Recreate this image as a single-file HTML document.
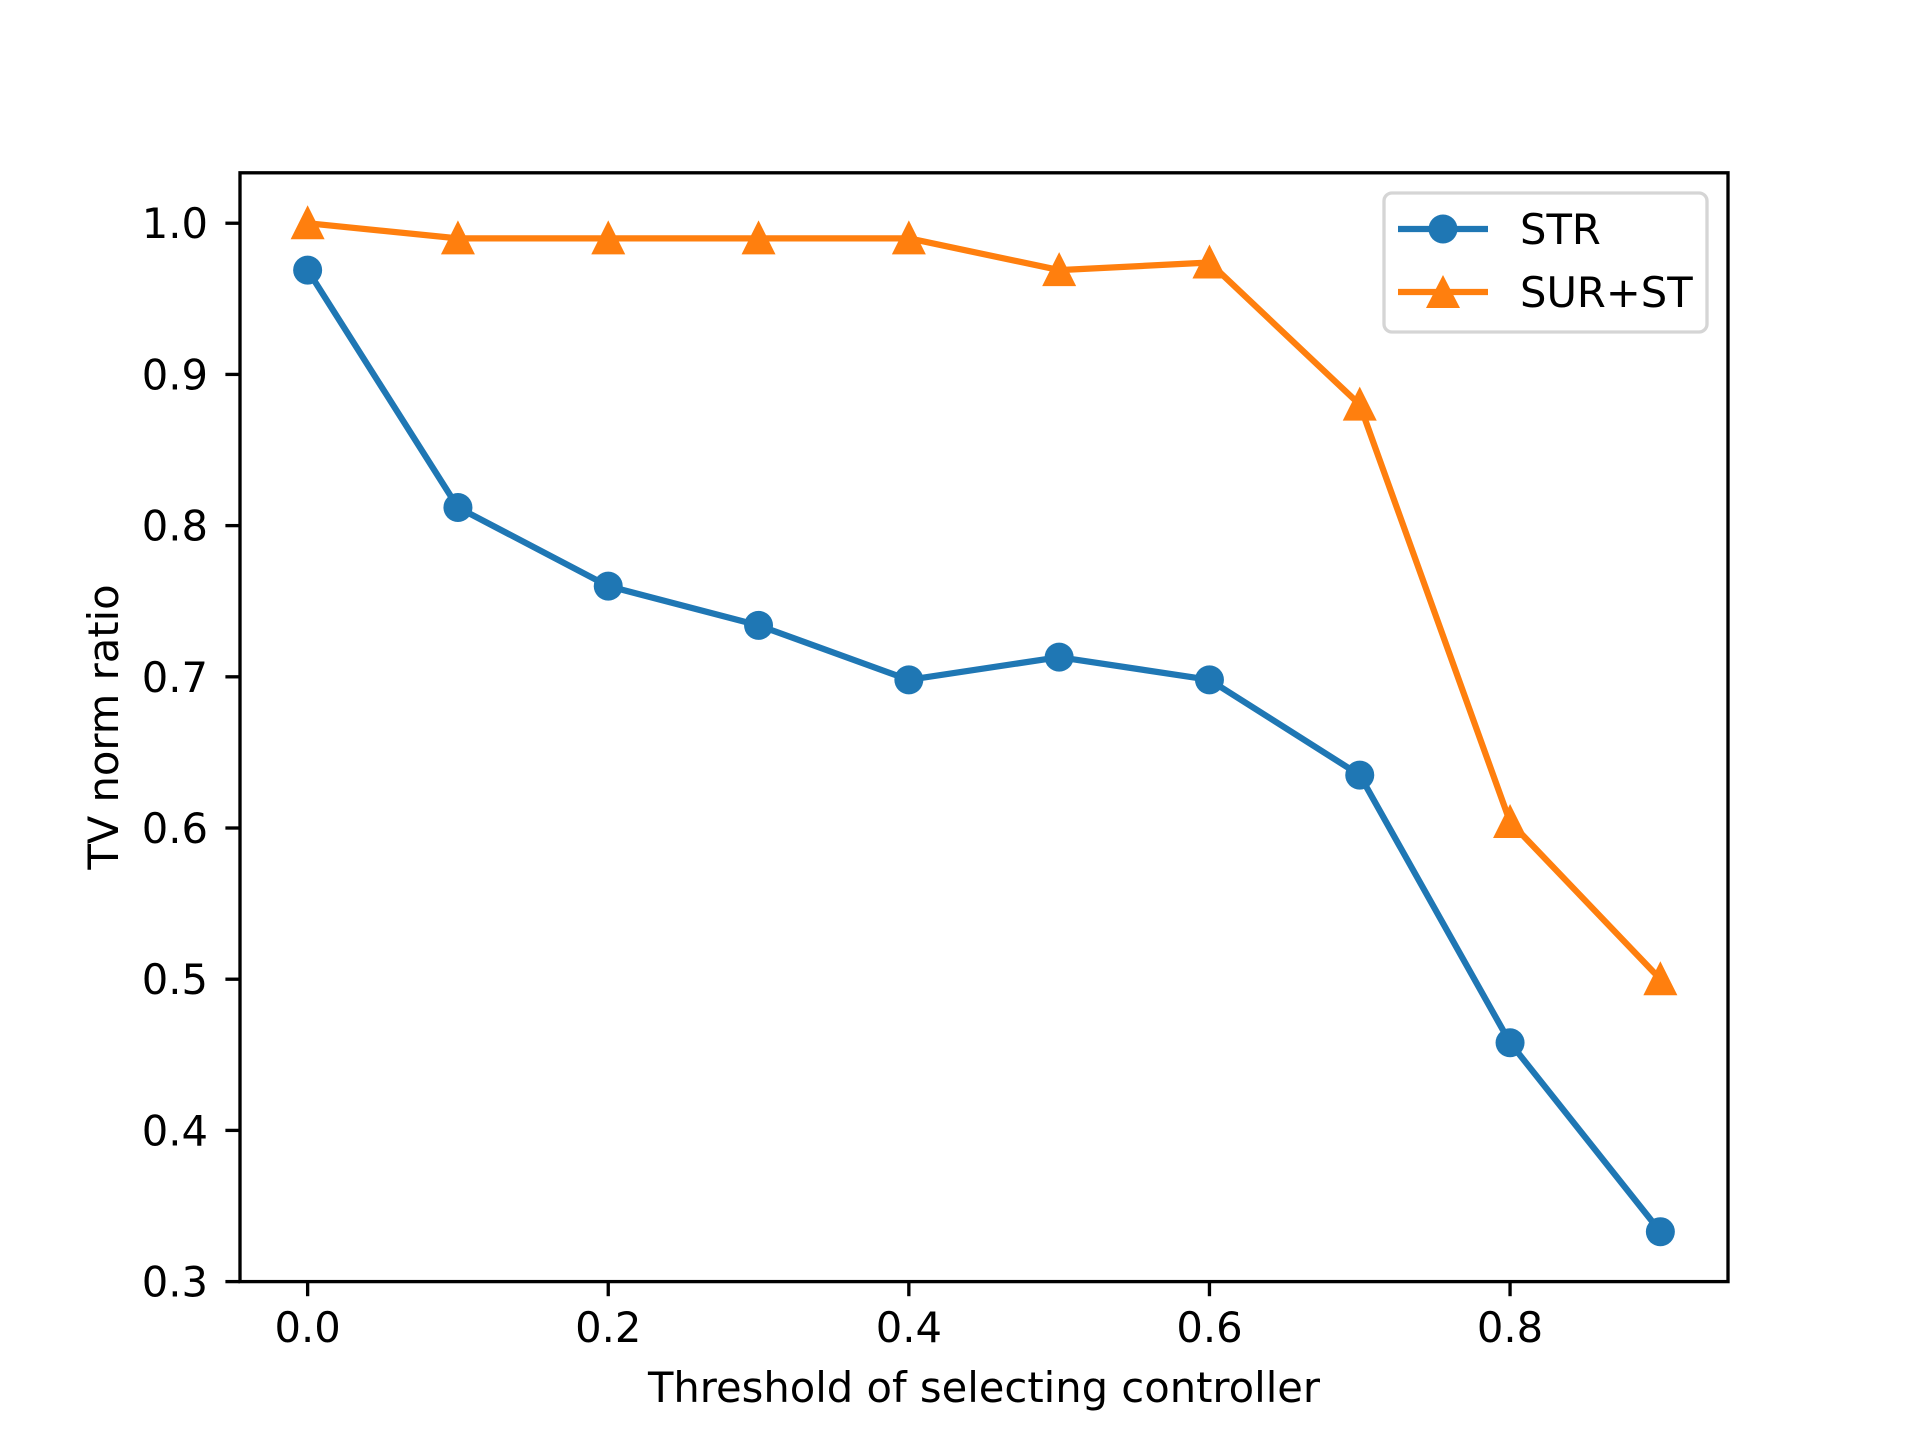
<!DOCTYPE html>
<html><head><meta charset="utf-8"><style>
html,body{margin:0;padding:0;background:#fff;}
svg{display:block;font-family:"DejaVu Sans","Liberation Sans",sans-serif;}
</style></head><body>
<svg id="chart" width="1920" height="1440" viewBox="0 0 1920 1440" xmlns="http://www.w3.org/2000/svg">
<rect width="1920" height="1440" fill="#fff"/>
<g id="grid"></g>
<g id="series"></g>
<rect x="240" y="172.8" width="1488" height="1108.8" fill="none" stroke="#000" stroke-width="3.33"/>
<g id="ticks"></g>
<text x="984" y="1402" font-size="41.67" text-anchor="middle">Threshold of selecting controller</text>
<text transform="translate(118,727) rotate(-90)" font-size="41.67" text-anchor="middle">TV norm ratio</text>
<g>
<rect x="1384" y="193" width="323" height="139" rx="8" fill="#fff" fill-opacity="0.8" stroke="#d5d5d5" stroke-width="3.33"/>
<g>
<line x1="1398" y1="229" x2="1488" y2="229" stroke="#1f77b4" stroke-width="6.25"/>
<circle cx="1443" cy="229" r="14.5" fill="#1f77b4"/>
<text x="1520" y="244" font-size="41.67">STR</text>
</g>
<g>
<line x1="1398" y1="292" x2="1488" y2="292" stroke="#ff7f0e" stroke-width="6.25"/>
<polygon points="1443,275 1460,308 1426,308" fill="#ff7f0e"/>
<text x="1520" y="307" font-size="41.67">SUR+ST</text>
</g>
</g>
</svg>
<script>
const categories = [0.0, 0.1, 0.2, 0.3, 0.4, 0.5, 0.6, 0.7, 0.8, 0.9];
const strValues = [0.969, 0.812, 0.760, 0.734, 0.698, 0.713, 0.698, 0.635, 0.458, 0.333];
const surValues = [1.0, 0.99, 0.99, 0.99, 0.99, 0.969, 0.974, 0.880, 0.604, 0.500];
const xTickLabels = ["0.0", "0.2", "0.4", "0.6", "0.8"];
const yTickLabels = ["0.3", "0.4", "0.5", "0.6", "0.7", "0.8", "0.9", "1.0"];

const NS = "http://www.w3.org/2000/svg";
const L = 240, R = 1728, T = 172.8, B = 1281.6;
const xmin0 = Math.min(...categories), xmax0 = Math.max(...categories);
const xpad = (xmax0 - xmin0) * 0.05;
const xmin = xmin0 - xpad, xmax = xmax0 + xpad;
const allY = strValues.concat(surValues);
const ymin0 = Math.min(...allY), ymax0 = Math.max(...allY);
const ypad = (ymax0 - ymin0) * 0.05;
const ymin = 0.3, ymax = ymax0 + ypad;
function sx(v) { return L + (v - xmin) / (xmax - xmin) * (R - L); }
function sy(v) { return B - (v - ymin) / (ymax - ymin) * (B - T); }
function mk(tag, attrs, parent) {
  const e = document.createElementNS(NS, tag);
  for (const k in attrs) e.setAttribute(k, attrs[k]);
  parent.appendChild(e);
  return e;
}
const ticks = document.getElementById("ticks");
xTickLabels.forEach(function (lab) {
  const v = parseFloat(lab), x = sx(v);
  const t = mk("line", {x1: x, y1: B, x2: x, y2: B + 14.6, stroke: "#000", "stroke-width": 3.33}, ticks);
  
  
  const tx = mk("text", {x: x, y: 1342, "font-size": 41.67, "text-anchor": "middle"}, ticks);
  tx.textContent = lab;
  
  
});
yTickLabels.forEach(function (lab) {
  const v = parseFloat(lab), y = sy(v);
  const t = mk("line", {x1: L - 14.6, y1: y, x2: L, y2: y, stroke: "#000", "stroke-width": 3.33}, ticks);
  
  
  const tx = mk("text", {x: 208, y: y + 15, "font-size": 41.67, "text-anchor": "end"}, ticks);
  tx.textContent = lab;
  
  
});
const series = document.getElementById("series");
function drawSeries(vals, color, marker, name) {
  const g = mk("g", {}, series);
  
  
  const pts = categories.map(function (c, i) { return sx(c) + "," + sy(vals[i]); }).join(" ");
  const pl = mk("polyline", {points: pts, fill: "none", stroke: color, "stroke-width": 6.25, "stroke-linejoin": "round", "stroke-linecap": "square"}, g);
  
  
  categories.forEach(function (c, i) {
    const x = sx(c), y = sy(vals[i]);
    let m;
    if (marker === "circle") {
      m = mk("circle", {cx: x, cy: y, r: 14.5, fill: color}, g);
    } else {
      m = mk("polygon", {points: x + "," + (y - 18) + " " + (x + 17) + "," + (y + 16) + " " + (x - 17) + "," + (y + 16), fill: color}, g);
    }
    
    
  });
}
drawSeries(strValues, "#1f77b4", "circle", "series-str");
drawSeries(surValues, "#ff7f0e", "triangle", "series-sur-st");
</script>
</body></html>
